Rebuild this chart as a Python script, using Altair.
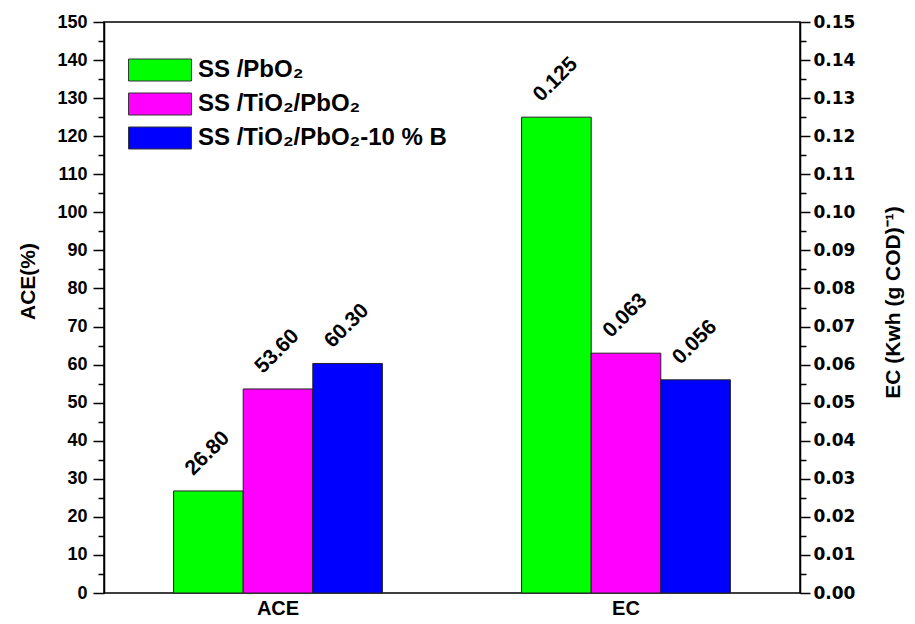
import altair as alt
import pandas as pd

groups = ["ACE", "EC"]
series = ["SS /PbO₂", "SS /TiO₂/PbO₂", "SS /TiO₂/PbO₂-10 % B"]
ace_values = [26.80, 53.60, 60.30]
ec_values = [0.125, 0.063, 0.056]
colors = ["#00FF00", "#FF00FF", "#0000FF"]
left_ticks = [0, 10, 20, 30, 40, 50, 60, 70, 80, 90, 100, 110, 120, 130, 140, 150]
left_minor = [5, 15, 25, 35, 45, 55, 65, 75, 85, 95, 105, 115, 125, 135, 145]
right_ticks = [0.00, 0.01, 0.02, 0.03, 0.04, 0.05, 0.06, 0.07, 0.08, 0.09, 0.10,
               0.11, 0.12, 0.13, 0.14, 0.15]
right_minor = [0.005, 0.015, 0.025, 0.035, 0.045, 0.055, 0.065, 0.075, 0.085,
               0.095, 0.105, 0.115, 0.125, 0.135, 0.145]

ace_df = pd.DataFrame({"group": ["ACE"] * 3, "series": series, "value": ace_values,
                       "label": [f"{v:.2f}" for v in ace_values]})
ec_df = pd.DataFrame({"group": ["EC"] * 3, "series": series, "value": ec_values,
                      "label": [f"{v:.3f}" for v in ec_values]})

FONT = "Liberation Sans"

x_enc = alt.X("group:N",
              scale=alt.Scale(domain=groups, paddingInner=0.4, paddingOuter=0.2),
              axis=alt.Axis(title=None, ticks=False, domain=False, labelAngle=0,
                            labelFont=FONT, labelFontSize=20,
                            labelFontWeight="bold", labelColor="black", labelPadding=5))
xoff = alt.XOffset("series:N", scale=alt.Scale(domain=series, paddingInner=0, paddingOuter=0))
color_enc = alt.Color("series:N",
                      scale=alt.Scale(domain=series, range=colors),
                      legend=alt.Legend(title=None, orient="none", legendX=44, legendY=36,
                                        symbolType="M-2.86,-1L2.86,-1L2.86,1L-2.86,1Z",
                                        symbolSize=484, symbolStrokeColor="#333333",
                                        symbolStrokeWidth=1, symbolOpacity=1,
                                        labelFont=FONT, labelFontSize=24,
                                        labelFontWeight="bold", labelColor="black",
                                        labelOffset=26, rowPadding=8, labelLimit=500,
                                        padding=0))

left_axis = alt.Axis(orient="left", values=left_ticks, tickSize=11, tickWidth=1.5,
                     tickColor="black", domainColor="black", domainWidth=1.5,
                     labelFont=FONT, labelFontSize=18, labelFontWeight="bold",
                     labelColor="black", labelPadding=6, labelOverlap=False, grid=False,
                     title="ACE(%)", titleFont=FONT, titleFontSize=21,
                     titleFontWeight="bold", titleColor="black", titleAngle=270,
                     titleAlign="center", titleBaseline="middle", titleX=-76, titleY=259)
right_axis = alt.Axis(orient="right", values=right_ticks, format=".2f", tickSize=10,
                      tickWidth=1.5, tickColor="black", domainColor="black",
                      domainWidth=1.5, labelFont="DejaVu Sans", labelFontSize=17,
                      labelFontWeight="bold", labelColor="black", labelPadding=3,
                      labelOverlap=False, grid=False, title="EC (Kwh (g COD)⁻¹)",
                      titleFont=FONT, titleFontSize=21, titleFontWeight="bold",
                      titleColor="black", titleAngle=270, titleAlign="center",
                      titleBaseline="middle", titleX=93, titleY=280)


def ace_scale():
    return alt.Scale(domain=[0, 150], nice=False, zero=True)


def ec_scale():
    return alt.Scale(domain=[0, 0.15], nice=False, zero=True)


ace_bars = alt.Chart(ace_df).mark_bar(stroke="#222222", strokeWidth=1).encode(
    x=x_enc, xOffset=xoff, color=color_enc,
    y=alt.Y("value:Q", scale=ace_scale(), axis=left_axis))
ec_bars = alt.Chart(ec_df).mark_bar(stroke="#222222", strokeWidth=1).encode(
    x=x_enc, xOffset=xoff, color=color_enc,
    y=alt.Y("value:Q", scale=ec_scale(), axis=right_axis))
ace_text = alt.Chart(ace_df).mark_text(angle=315, align="center", baseline="middle",
                                       dx=26, dy=-27, font=FONT, fontSize=21,
                                       fontWeight="bold", color="black").encode(
    x=x_enc, xOffset=xoff, y=alt.Y("value:Q", scale=ace_scale(), axis=None),
    text="label:N")
ec_text = alt.Chart(ec_df).mark_text(angle=315, align="center", baseline="middle",
                                     dx=26, dy=-27, font=FONT, fontSize=21,
                                     fontWeight="bold", color="black").encode(
    x=x_enc, xOffset=xoff, y=alt.Y("value:Q", scale=ec_scale(), axis=None),
    text="label:N")

minor_left = alt.Chart(pd.DataFrame({"v": left_minor})).mark_point(opacity=0).encode(
    y=alt.Y("v:Q", scale=ace_scale(),
            axis=alt.Axis(orient="left", values=left_minor, tickSize=6, tickWidth=1.5,
                          tickColor="black", labels=False, domain=False, grid=False,
                          title=None)))
minor_right = alt.Chart(pd.DataFrame({"v": right_minor})).mark_point(opacity=0).encode(
    y=alt.Y("v:Q", scale=ec_scale(),
            axis=alt.Axis(orient="right", values=right_minor, tickSize=6, tickWidth=1.5,
                          tickColor="black", labels=False, domain=False, grid=False,
                          title=None)))

chart = alt.layer(
    ace_bars, ec_bars, ace_text, ec_text, minor_left, minor_right,
).resolve_scale(y="independent").properties(
    width=696, height=571,
    autosize=alt.AutoSizeParams(type="none"),
    padding={"left": 96, "top": 14, "right": 107, "bottom": 30},
).configure_view(stroke="black", strokeWidth=1.5)

chart.save("out.html", embed_options={"renderer": "svg", "actions": False})
